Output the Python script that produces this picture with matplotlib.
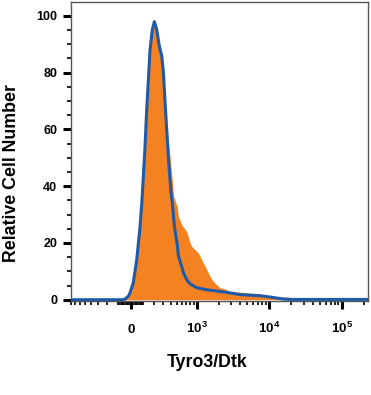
import numpy as np
import matplotlib
matplotlib.use('Agg')
import matplotlib.pyplot as plt

plt.rcParams['font.family'] = ['Liberation Sans', 'DejaVu Sans']
plt.rcParams['font.weight'] = 'bold'
plt.rcParams['mathtext.fontset'] = 'custom'
plt.rcParams['mathtext.rm'] = 'Liberation Sans:bold'
plt.rcParams['mathtext.bf'] = 'Liberation Sans:bold'
plt.rcParams['mathtext.it'] = 'Liberation Sans:bold'

# Данные гистограмм (интенсивность флуоресценции -> относительное число клеток)
blue_x = [-801, -61, -45, -19, -5, 20, 47, 74, 90, 114, 130, 160, 182, 202,
          227, 256, 284, 304, 326, 349, 371, 408, 423, 462, 510, 531, 597,
          631, 707, 790, 985, 1363, 2090, 2876, 3953, 7464, 10258, 15500,
          19360, 232000]
blue_y = [0, 0, 0.25, 1.2, 2.5, 6.0, 14.1, 25.8, 35.2, 52.8, 66.9, 88.0, 95.1,
          98.0, 95.1, 89.2, 85.7, 79.9, 68.7, 58.8, 49.3, 37.7, 35.2, 25.7,
          19.4, 15.5, 11.6, 9.5, 7.0, 5.6, 4.2, 3.5, 2.9, 2.4, 1.8, 1.4, 0.95,
          0.25, 0.1, 0.1]

orange_x = [-801, -69, -37, -13, 8, 30, 54, 70, 82, 103, 120, 151, 175, 194,
            220, 236, 264, 287, 306, 349, 397, 450, 510, 531, 597, 707, 790,
            836, 985, 1038, 1160, 1363, 1515, 1686, 2090, 2322, 2876, 3193,
            4349, 5432, 7464, 9237, 15500, 19360, 20430, 232000]
orange_y = [0, 0, 0.5, 1.6, 3.2, 10.6, 21.1, 29.9, 35.2, 52.8, 66.9, 88.0,
            95.1, 97.4, 97.2, 94.0, 88.7, 84.5, 78.2, 60.9, 49.3, 36.3, 32.7,
            29.3, 26.4, 24.0, 20.1, 18.8, 17.0, 16.5, 14.1, 10.6, 8.2, 6.4,
            4.2, 4.0, 2.9, 2.8, 2.6, 2.3, 2.1, 1.4, 0.9, 0.9, 0, 0]

x_major = [0, 1e3, 1e4, 1e5]
x_labels = ['0', r'$10^{3}$', r'$10^{4}$', r'$10^{5}$']
x_minor = ([-100 * k for k in range(1, 9)] + [-10 * k for k in range(1, 10)] +
           [10 * k for k in range(1, 10)] + [100 * k for k in range(1, 10)] +
           [1000 * k for k in range(2, 10)] + [10000 * k for k in range(2, 10)] +
           [200000])
y_major = [0, 20, 40, 60, 80, 100]
y_minor = list(range(5, 105, 5))

orange = '#F58220'
blue = '#1E5AA8'


# Биэкспоненциальная (arcsinh) шкала оси X
def fwd(x):
    return np.arcsinh(np.asarray(x, dtype=float) / 246.0)


def inv(u):
    return 246.0 * np.sinh(u)


fig = plt.figure(figsize=(3.71, 3.95), dpi=100)
ax = fig.add_axes([0.1914, 0.2387, 0.8013, 0.7562])
ax.set_xscale('function', functions=(fwd, inv))

ax.fill_between(orange_x, orange_y, 0, color=orange, lw=0, zorder=2)
ax.plot(blue_x, blue_y, color=blue, lw=2.2, zorder=3, solid_joinstyle='round')

ax.set_xlim(-801, 232000)
ax.set_ylim(-0.35, 104.9)

ax.set_xticks(x_major, labels=x_labels)
ax.set_xticks(x_minor, minor=True)
ax.set_yticks(y_major)
ax.set_yticks(y_minor, minor=True)

ax.tick_params(axis='x', which='major', length=6, width=2.2, pad=17,
               labelsize=9.7, color='black')
ax.tick_params(axis='x', which='minor', length=3, width=1.2, color='black')
ax.tick_params(axis='y', which='major', length=6, width=2.2, pad=4,
               labelsize=9, color='black')
ax.tick_params(axis='y', which='minor', length=3, width=1.2, color='black')
for lab in ax.get_xticklabels():
    lab.set_va('baseline')

for s in ax.spines.values():
    s.set_color('#555555')
    s.set_linewidth(1.0)

fig.text(12 / 371, 1 - 173 / 395, 'Relative Cell Number', rotation=90,
         ha='center', va='center', fontsize=12.8, fontweight='bold')
fig.text(207.5 / 371, 1 - 367 / 395, 'Tyro3/Dtk', ha='center', va='baseline',
         fontsize=12.8, fontweight='bold')

fig.savefig('out.png', dpi=100)
